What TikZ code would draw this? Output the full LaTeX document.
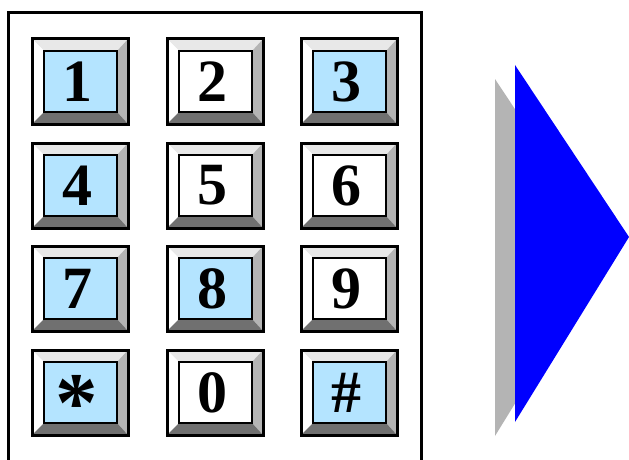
\documentclass[tikz,border=0pt]{standalone}
\usepackage{fontspec}
\setmainfont{Liberation Serif}
\usetikzlibrary{positioning}

\definecolor{keyblue}{RGB}{180,228,255}
\definecolor{bevlight}{RGB}{232,232,232}
\definecolor{bevside}{RGB}{180,180,180}
\definecolor{bevdark}{RGB}{112,112,112}
\definecolor{playblue}{RGB}{0,0,255}

\tikzset{
  keylabel/.style={font=\bfseries\fontsize{60}{60}\selectfont, inner sep=0pt},
  keyframe/.style={draw=black, line width=3pt},
  faceframe/.style={draw=black, line width=2.5pt}
}

% one key: left, top, face colour, label, name
\newcommand{\padkey}[5]{%
  \begin{scope}[shift={(#1,#2)}]
    \fill[bevlight] (0,0) -- (96,0) -- (85,12) -- (12,12) -- cycle;
    \fill[white] (0,0) -- (12,12) -- (12,73) -- (0,85) -- cycle;
    \fill[bevside] (96,0) -- (96,85) -- (85,73) -- (85,12) -- cycle;
    \fill[bevdark] (0,85) -- (96,85) -- (85,73) -- (12,73) -- cycle;
    \draw[keyframe] (0,0) rectangle (96,85);
    \filldraw[faceframe, fill=#3] (12,12) rectangle (85,73);
    \node[keylabel] (#5) at (45,42.5) {#4};
  \end{scope}}

\begin{document}
\begin{tikzpicture}[x=1pt, y=-1pt]
    \useasboundingbox (0,0) rectangle (629,460);

    % keypad frame
    \draw[line width=3pt] (8,13) rectangle (421,475);

    % keys
    \foreach \kx/\ky/\kc/\kl/\kn in {
        32/39/keyblue/1/k1, 167/39/white/2/k2, 301/39/keyblue/3/k3,
        32/143/keyblue/4/k4, 167/143/white/5/k5, 301/143/white/6/k6,
        32/246/keyblue/7/k7, 167/246/keyblue/8/k8, 301/246/white/9/k9,
        167/350/white/0/k0, 301/350/keyblue/\#/khash}
      {\padkey{\kx}{\ky}{\kc}{\kl}{\kn}}

    % star key, larger glyph
    \padkey{32}{350}{keyblue}{}{kstarface}
    \node[font=\bfseries\fontsize{85}{85}\selectfont, inner sep=0pt, yshift=-11pt]
      (kstar) at (kstarface) {*};

    % play arrow with shadow
    \fill[bevside] (495,79) -- (609,251) -- (495,436) -- cycle;
    \fill[playblue] (515,65) -- (629,237) -- (515,422) -- cycle;
\end{tikzpicture}
\end{document}
